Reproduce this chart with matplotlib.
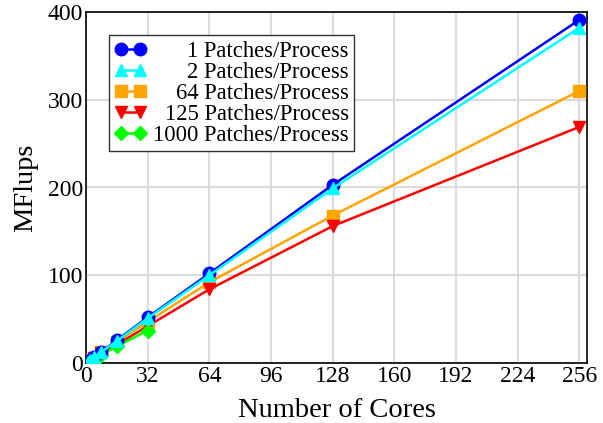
import matplotlib.pyplot as plt

cores = [1, 2, 4, 8, 16, 32, 64, 128, 256]
cores_1000 = [1, 2, 4, 8, 16, 32]

mflups_1 = [1.6, 3.2, 6.4, 12.8, 26, 52, 102, 203, 391]
mflups_2 = [1.6, 3.1, 6.3, 12.6, 25, 51, 100, 199, 382]
mflups_64 = [1.5, 3.0, 6.0, 12, 24, 47, 92, 168, 310]
mflups_125 = [1.4, 2.7, 5.4, 11, 21, 42, 84, 156, 269]
mflups_1000 = [1.2, 2.4, 4.8, 9.5, 19, 37]

plt.rcParams['font.family'] = ['Liberation Serif', 'DejaVu Serif']

fig = plt.figure(figsize=(6.03, 4.23), dpi=100)
ax = fig.add_axes([86 / 603, 60 / 423, 501 / 603, 351 / 423])

ax.plot(cores, mflups_1, color='#0000ff', marker='o', markersize=9, lw=1.8, label='1 Patches/Process', zorder=5)
ax.plot(cores, mflups_2, color='#00ffff', marker='^', markersize=9, lw=1.8, label='2 Patches/Process', zorder=5)
ax.plot(cores, mflups_64, color='#ffa500', marker='s', markersize=8, lw=1.8, label='64 Patches/Process', zorder=4)
ax.plot(cores, mflups_125, color='#ff0000', marker='v', markersize=9, lw=1.8, label='125 Patches/Process', zorder=4)
ax.plot(cores_1000, mflups_1000, color='#00ff00', marker='D', markersize=7, lw=1.8, label='1000 Patches/Process', zorder=4)

ax.set_xlim(0, 260)
ax.set_ylim(0, 400)
ax.set_xticks([0, 32, 64, 96, 128, 160, 192, 224, 256])
ax.set_yticks([0, 100, 200, 300, 400])
ax.tick_params(labelsize=17, length=0, pad=2)
ax.grid(True, color='#dcdcdc', lw=1.5)
ax.set_axisbelow(True)
for s in ax.spines.values():
    s.set_linewidth(1.2)

ax.set_xlabel('Number of Cores', fontsize=20.5, labelpad=8)
ax.set_ylabel('MFlups', fontsize=20.5, labelpad=7)

leg = ax.legend(loc='upper left', bbox_to_anchor=(23 / 501, 1 - 23 / 351), borderaxespad=0,
                fontsize=16.3, fancybox=False, edgecolor='#333333', framealpha=1,
                numpoints=2, handlelength=1.4, borderpad=0.25, labelspacing=0.0,
                handletextpad=0.3)
leg.get_frame().set_linewidth(1.0)

# right-align the legend labels like the original
fig.canvas.draw()
renderer = fig.canvas.get_renderer()
widths = [t.get_window_extent(renderer).width for t in leg.get_texts()]
w_max = max(widths)
for t, w in zip(leg.get_texts(), widths):
    t.set_x(w_max - w)

fig.savefig('out.png', dpi=100)
